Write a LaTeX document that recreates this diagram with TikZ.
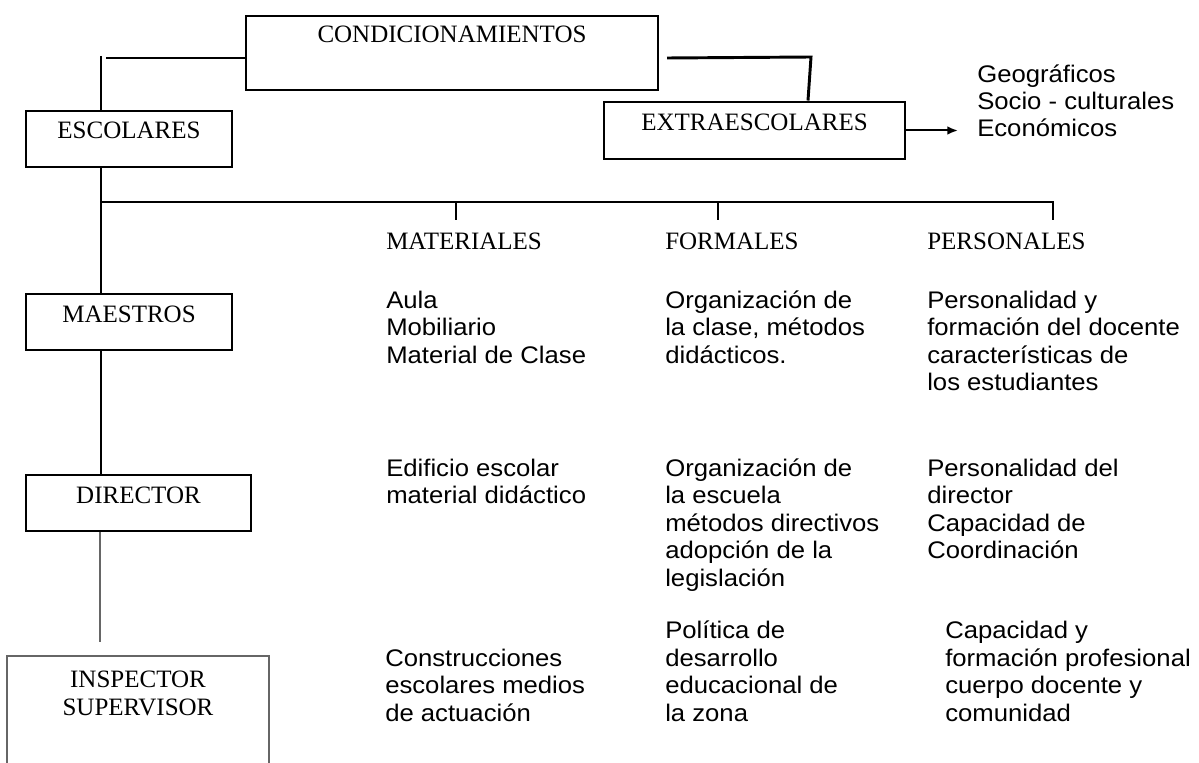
\documentclass[tikz,border=0pt]{standalone}
\usepackage{fontspec}
\setmainfont{Liberation Serif}
\newfontfamily\arialf[FakeStretch=1.07]{Liberation Sans}
\usetikzlibrary{arrows.meta}
\begin{document}
\begin{tikzpicture}[x=0.75pt,y=-0.75pt,
  heavy/.style={line width=2.2pt},
  lightline/.style={line width=0.8pt, draw=black!60},
  boxnode/.style={draw, line width=2.2pt, inner sep=0pt,
    font=\fontsize{18.75}{22}\selectfont, text height=9pt, text depth=9pt},
  serif/.style={font=\fontsize{18.75}{22}\selectfont, inner sep=0pt, anchor=base west},
  sans/.style={font=\arialf\fontsize{18}{20.6}\selectfont, inner sep=0pt,
    anchor=base west, align=left},
  geostyle/.style={font=\arialf\fontsize{18}{20.25}\selectfont, inner sep=0pt,
    anchor=base west, align=left}
]
\useasboundingbox (0,0) rectangle (1199,763);
\clip (0,0) rectangle (1199,763);

% boxes
\node[boxnode, minimum width=412*0.75pt, minimum height=74*0.75pt,
      text height=5pt, text depth=20pt] (cond) at (452,53) {CONDICIONAMIENTOS};
\node[boxnode, minimum width=206*0.75pt, minimum height=56*0.75pt] (escolares) at (129,139) {ESCOLARES};
\node[boxnode, minimum width=301*0.75pt, minimum height=57*0.75pt] (extra) at (754.5,130.5) {EXTRAESCOLARES};
\node[boxnode, minimum width=206*0.75pt, minimum height=56*0.75pt] (maestros) at (129,322) {MAESTROS};
\node[boxnode, minimum width=225*0.75pt, minimum height=56*0.75pt] (director) at (138.5,503) {DIRECTOR};
\node[draw=black!60, line width=0.8pt, inner sep=0pt,
      minimum width=262*0.75pt, minimum height=144*0.75pt] (inspector) at (138,728) {};
\node[inner sep=0pt, anchor=base, align=center,
      font=\fontsize{18.75}{20.6}\selectfont] (inspT) at (138,715) {INSPECTOR\\SUPERVISOR};

% side list (anchor = baseline of last line)
\node[geostyle] (geo) at (977,137) {Geográficos\\Socio - culturales\\Económicos};

% headers
\node[serif] (matH) at (386,249) {MATERIALES};
\node[serif] (forH) at (665,249) {FORMALES};
\node[serif] (perH) at (927,249) {PERSONALES};

% row 1 (anchor = baseline of last line)
\node[sans] (m1) at (386,363) {Aula\\Mobiliario\\Material de Clase};
\node[sans] (f1) at (665,363) {Organización de\\la clase, métodos\\didácticos.};
\node[sans] (p1) at (927,390.5) {Personalidad y\\formación del docente\\características de\\los estudiantes};
% row 2
\node[sans] (m2) at (386,503.5) {Edificio escolar\\material didáctico};
\node[sans] (f2) at (665,586) {Organización de\\la escuela\\métodos directivos\\adopción de la\\legislación};
\node[sans] (p2) at (927,558.5) {Personalidad del\\director\\Capacidad de\\Coordinación};
% row 3
\node[sans] (m3) at (385,721) {Construcciones\\escolares medios\\de actuación};
\node[sans] (f3) at (665,721) {Política de\\desarrollo\\educacional de\\la zona};
\node[sans] (p3) at (945,721) {Capacidad y\\formación profesional\\cuerpo docente y\\comunidad};

% coordinates
\coordinate (lh) at (106,58);
\coordinate (spine) at (101,56);
\coordinate (rh0) at (667,58);
\coordinate (rh1) at (811,57);
\coordinate (busL) at (101,202);
\coordinate (busR) at (1053,202);
\coordinate (t1) at (456,220);
\coordinate (t2) at (718,220);
\coordinate (t3) at (1053,220);
\coordinate (dirEnd) at (100,642);

% connectors
\draw[heavy] (cond.west |- lh) -- (lh);
\draw[heavy] (spine) -- (spine |- escolares.north);
\draw[heavy] (rh0) -- (rh1) -- ([xshift=-3*0.75pt]rh1 |- extra.north);
\draw[heavy] (spine |- escolares.south) -- (spine |- maestros.north);
\draw[heavy] (busL) -- (busR) -- (t3);
\draw[heavy] (busL -| t1) -- (t1);
\draw[heavy] (busL -| t2) -- (t2);
\draw[heavy] (spine |- maestros.south) -- (spine |- director.north);
\draw[lightline] (dirEnd |- director.south) -- (dirEnd);
\draw[line width=1.5pt, -{Latex[length=8pt,width=6.5pt]}, shorten >=14.25pt]
  (extra.east) -- (extra.east -| geo.west);
\end{tikzpicture}
\end{document}
